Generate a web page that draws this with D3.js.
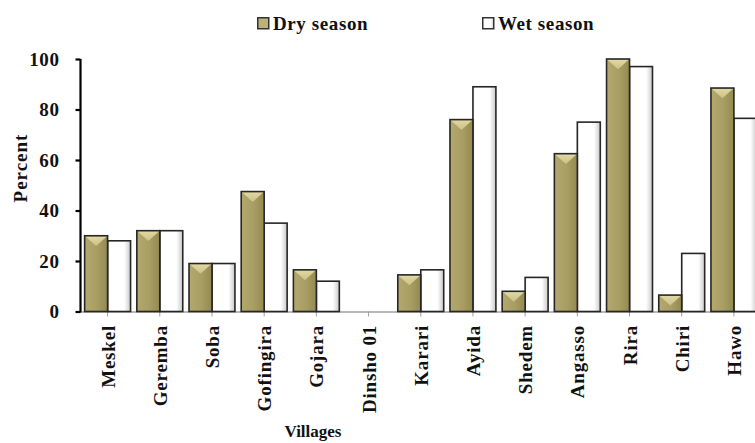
<!DOCTYPE html>
<html>
<head>
<meta charset="utf-8">
<script src="https://cdn.jsdelivr.net/npm/d3@7/dist/d3.min.js"></script>
<style>
  html, body { margin: 0; padding: 0; background: #fff; }
  svg { display: block; }
  text { font-family: "Liberation Serif", "Times New Roman", serif; font-weight: bold; fill: #111; }
</style>
</head>
<body>
<svg id="chart" width="755" height="443"></svg>
<script>
// Villages and the share (%) recorded for each season
const villages = ["Meskel", "Geremba", "Soba", "Gofingira", "Gojara", "Dinsho 01", "Karari",
                  "Ayida", "Shedem", "Angasso", "Rira", "Chiri", "Hawo"];
const drySeason = [30, 32, 19, 47.5, 16.5, 0, 14.5, 76, 8, 62.5, 100, 6.5, 88.5];
const wetSeason = [28, 32, 19, 35, 12, 0, 16.5, 89, 13.5, 75, 97, 23, 76.5];
const seriesNames = ["Dry season", "Wet season"];
const yTicks = [0, 20, 40, 60, 80, 100];

const svg = d3.select("#chart");
const defs = svg.append("defs");

// Olive bar shading: lighter on the left, darker toward the right edge
const gDry = defs.append("linearGradient").attr("id", "dryFill").attr("x1", 0).attr("x2", 1).attr("y1", 0).attr("y2", 0);
gDry.append("stop").attr("offset", "0%").attr("stop-color", "#b3a96e");
gDry.append("stop").attr("offset", "55%").attr("stop-color", "#a89e63");
gDry.append("stop").attr("offset", "100%").attr("stop-color", "#938a52");
const gDryTop = defs.append("linearGradient").attr("id", "dryTop").attr("x1", 0).attr("x2", 0).attr("y1", 0).attr("y2", 1);
gDryTop.append("stop").attr("offset", "0%").attr("stop-color", "#e2d9a4");
gDryTop.append("stop").attr("offset", "100%").attr("stop-color", "#cbc188");
// White bar shading: soft grey at the right side
const gWet = defs.append("linearGradient").attr("id", "wetFill").attr("x1", 0).attr("x2", 1).attr("y1", 0).attr("y2", 0);
gWet.append("stop").attr("offset", "0%").attr("stop-color", "#f4f4f4");
gWet.append("stop").attr("offset", "12%").attr("stop-color", "#ffffff");
gWet.append("stop").attr("offset", "72%").attr("stop-color", "#ffffff");
gWet.append("stop").attr("offset", "100%").attr("stop-color", "#c9c9c9");

const plotLeft = 81.5, plotRight = 760, plotTop = 59, plotBottom = 311.5;

const x = d3.scaleBand().domain(villages).range([plotLeft, plotRight])
  .paddingInner(0.12).paddingOuter(0.06);
const xs = d3.scaleBand().domain(seriesNames).range([0, x.bandwidth()]);
const y = d3.scaleLinear().domain([0, 100]).range([plotBottom, plotTop]);

// Category axis (grey baseline and centre ticks)
const xAxis = svg.append("g").attr("transform", `translate(0,${plotBottom})`)
  .call(d3.axisBottom(x).tickSize(5).tickSizeOuter(0).tickFormat(""));
xAxis.select(".domain").attr("stroke", "#a0a0a0").attr("stroke-width", 1.5)
  .attr("d", `M${plotLeft},0.5H755`);
xAxis.selectAll(".tick line").attr("stroke", "#a0a0a0").attr("stroke-width", 1);

// Bars
const data = villages.map((v, i) => ({ v, dry: drySeason[i], wet: wetSeason[i] }));
const groups = svg.append("g").selectAll("g").data(data).join("g")
  .attr("transform", d => `translate(${x(d.v)},0)`);

const bw = xs.bandwidth();
groups.each(function (d) {
  const g = d3.select(this);
  // wet season bar
  if (d.wet > 0) {
    g.append("rect")
      .attr("x", xs("Wet season")).attr("y", y(d.wet))
      .attr("width", bw).attr("height", y(0) - y(d.wet))
      .attr("fill", "url(#wetFill)").attr("stroke", "#262626").attr("stroke-width", 1.6);
  }
  // dry season bar with bevelled top
  if (d.dry > 0) {
    const x0 = xs("Dry season"), top = y(d.dry), h = y(0) - y(d.dry);
    g.append("rect")
      .attr("x", x0).attr("y", top).attr("width", bw).attr("height", h)
      .attr("fill", "url(#dryFill)");
    const th = Math.min(bw * 0.45, h);
    g.append("path")
      .attr("d", `M${x0},${top}L${x0 + bw},${top}L${x0 + bw / 2},${top + th}Z`)
      .attr("fill", "url(#dryTop)");
    g.append("rect")
      .attr("x", x0).attr("y", top).attr("width", bw).attr("height", h)
      .attr("fill", "none").attr("stroke", "#262626").attr("stroke-width", 1.6);
  }
});

// Value axis
const yAxis = svg.append("g").attr("transform", `translate(80.5,0)`)
  .call(d3.axisLeft(y).tickValues(yTicks).tickSize(5).tickSizeOuter(0).tickPadding(16));
yAxis.select(".domain").attr("stroke", "#000").attr("stroke-width", 2.2)
  .attr("d", `M0,${plotTop}V${plotBottom + 1}`);
yAxis.selectAll(".tick line").attr("stroke", "#000").attr("stroke-width", 2.2);
yAxis.selectAll(".tick text")
  .style("font-family", '"Liberation Serif", serif').style("font-weight", "bold")
  .style("font-size", "19px").style("letter-spacing", "0.6px").attr("fill", "#111");

// Category labels, rotated
svg.append("g").selectAll("text").data(villages).join("text")
  .attr("transform", d => `translate(${x(d) + x.bandwidth() / 2 + 7},325) rotate(-90)`)
  .attr("text-anchor", "end")
  .style("font-size", "19px").style("letter-spacing", "0.8px")
  .text(d => d);

// Axis titles
svg.append("text")
  .attr("transform", "translate(27,168) rotate(-90)")
  .attr("text-anchor", "middle")
  .style("font-size", "19px").style("letter-spacing", "1px")
  .text("Percent");
svg.append("text")
  .attr("x", 313).attr("y", 437).attr("text-anchor", "middle")
  .style("font-size", "17px")
  .text("Villages");

// Legend
const legendX = [257, 482];
const legend = svg.append("g").selectAll("g").data(seriesNames).join("g")
  .attr("transform", (d, i) => `translate(${legendX[i]},17)`);
legend.append("rect")
  .attr("x", 0.75).attr("y", 0.75).attr("width", 11).attr("height", 11)
  .attr("fill", (d, i) => i === 0 ? "#bdb378" : "url(#wetFill)")
  .attr("stroke", "#333").attr("stroke-width", 1.5);
legend.append("text")
  .attr("x", 16).attr("y", 12.5)
  .style("font-size", "19px").style("letter-spacing", "0.6px")
  .text(d => d);
</script>
</body>
</html>
